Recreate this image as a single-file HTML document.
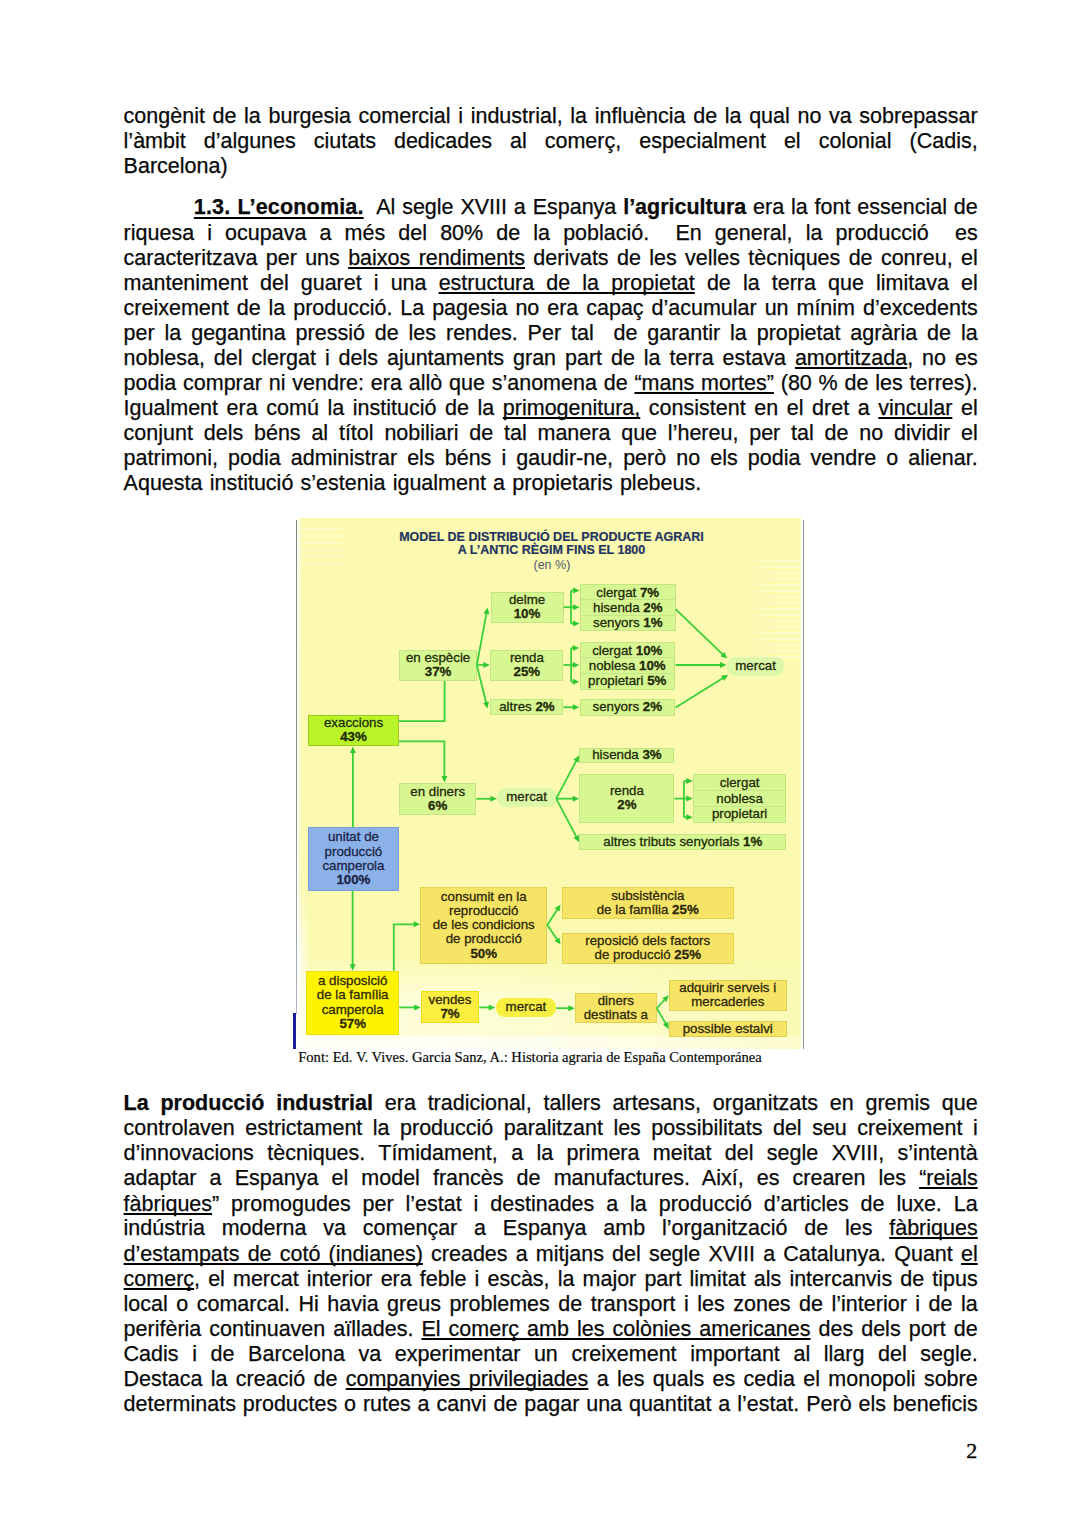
<!DOCTYPE html>
<html><head><meta charset="utf-8">
<style>
html,body{margin:0;padding:0;background:#fff;}
body{width:1080px;height:1528px;position:relative;overflow:hidden;font-family:"Liberation Sans",sans-serif;color:#0a0a0a;}
.ln{position:absolute;font-size:21.5px;line-height:25px;white-space:nowrap;-webkit-text-stroke:0.25px #000;}
.ln.j{text-align:justify;text-align-last:justify;white-space:normal;}
.ln u{text-decoration:underline;text-decoration-skip-ink:none;text-decoration-thickness:1.5px;text-underline-offset:1.7px;}
.ln b{font-weight:bold;}
.ln b u{text-underline-offset:3.2px;text-decoration-thickness:2.4px;letter-spacing:0.18px;}
.cap{position:absolute;font-family:"Liberation Serif",serif;font-size:14.6px;line-height:17px;white-space:nowrap;color:#0a0a0a;-webkit-text-stroke:0.2px #0a0a0a;}
.conn{position:absolute;left:0;top:0;pointer-events:none;}
.pn{position:absolute;font-family:"Liberation Serif",serif;font-size:22px;line-height:25px;color:#0a0a0a;-webkit-text-stroke:0.4px #0a0a0a;}
.cbg{position:absolute;left:298px;top:518px;width:503px;height:531px;background:#fbfab0;}
.bl{position:absolute;background:#8a8a80;}
.bx{position:absolute;box-sizing:border-box;display:flex;flex-direction:column;justify-content:center;align-items:center;text-align:center;font-size:13.3px;line-height:14.3px;color:#1f2a08;white-space:nowrap;-webkit-text-stroke:0.3px #1f2a08;}
.bx b{font-weight:bold;}
.g{background:#d6f792;border:1px solid #c4e682;}
.ex{background:#b8f428;border:1px solid #9cc820;}
.bu{background:#8cb0e8;border:1px solid #7c9ed8;color:#1b2748;-webkit-text-stroke:0.3px #1b2748;}
.go{background:#f6e466;border:1px solid #e6d050;color:#2e2808;-webkit-text-stroke:0.3px #2e2808;}
.ye{background:#fff400;border:1px solid #ecdc10;color:#2e2808;-webkit-text-stroke:0.3px #2e2808;}
.pill{border:none;border-radius:8px/9px;}
.g.pill{background:#dcf8a8;}
.rows{justify-content:space-around;}
.rows div{line-height:15px;}
.ttl{position:absolute;font-weight:bold;font-size:12.5px;line-height:13px;color:#22335f;white-space:nowrap;text-align:center;-webkit-text-stroke:0.2px #22335f;}
.sub{position:absolute;font-size:12.5px;line-height:13px;color:#50566a;white-space:nowrap;}
.sep{position:absolute;height:1px;background:#c6e68c;z-index:1;}
.ov{position:absolute;pointer-events:none;}
.bx>div{position:relative;z-index:2;}

</style></head><body>
<div class="ln j" style="top:103.65px;left:123.60px;width:854.10px;">congènit de la burgesia comercial i industrial, la influència de la qual no va sobrepassar</div>
<div class="ln j" style="top:128.75px;left:123.60px;width:854.10px;">l’àmbit d’algunes ciutats dedicades al comerç, especialment el colonial (Cadis,</div>
<div class="ln" style="top:153.75px;left:123.60px;">Barcelona)</div>
<div class="ln j" style="top:195.45px;left:193.80px;width:783.90px;"><b><u>1.3. L’economia.</u></b>&nbsp; Al segle XVIII a Espanya <b>l’agricultura</b> era la font essencial de</div>
<div class="ln j" style="top:220.55px;left:123.60px;width:854.10px;">riquesa i ocupava a més del 80% de la població.&nbsp; En general, la producció&nbsp; es</div>
<div class="ln j" style="top:245.85px;left:123.60px;width:854.10px;">caracteritzava per uns <u>baixos rendiments</u> derivats de les velles tècniques de conreu, el</div>
<div class="ln j" style="top:270.85px;left:123.60px;width:854.10px;">manteniment del guaret i una <u>estructura de la propietat</u> de la terra que limitava el</div>
<div class="ln j" style="top:295.75px;left:123.60px;width:854.10px;">creixement de la producció. La pagesia no era capaç d’acumular un mínim d’excedents</div>
<div class="ln j" style="top:320.55px;left:123.60px;width:854.10px;">per la gegantina pressió de les rendes. Per tal&nbsp; de garantir la propietat agrària de la</div>
<div class="ln j" style="top:345.75px;left:123.60px;width:854.10px;">noblesa, del clergat i dels ajuntaments gran part de la terra estava <u>amortitzada</u>, no es</div>
<div class="ln j" style="top:370.55px;left:123.60px;width:854.10px;">podia comprar ni vendre: era allò que s’anomena de <u>“mans mortes”</u> (80 % de les terres).</div>
<div class="ln j" style="top:395.85px;left:123.60px;width:854.10px;">Igualment era comú la institució de la <u>primogenitura,</u> consistent en el dret a <u>vincular</u> el</div>
<div class="ln j" style="top:420.95px;left:123.60px;width:854.10px;">conjunt dels béns al títol nobiliari de tal manera que l’hereu, per tal de no dividir el</div>
<div class="ln j" style="top:445.75px;left:123.60px;width:854.10px;">patrimoni, podia administrar els béns i gaudir-ne, però no els podia vendre o alienar.</div>
<div class="ln j" style="top:470.95px;left:123.60px;width:577.60px;">Aquesta institució s’estenia igualment a propietaris plebeus.</div>
<div class="ln j" style="top:1091.25px;left:123.60px;width:854.10px;"><b>La producció industrial</b> era tradicional, tallers artesans, organitzats en gremis que</div>
<div class="ln j" style="top:1116.15px;left:123.60px;width:854.10px;">controlaven estrictament la producció paralitzant les possibilitats del seu creixement i</div>
<div class="ln j" style="top:1141.25px;left:123.60px;width:854.10px;">d’innovacions tècniques. Tímidament, a la primera meitat del segle XVIII, s’intentà</div>
<div class="ln j" style="top:1166.25px;left:123.60px;width:854.10px;">adaptar a Espanya el model francès de manufactures. Així, es crearen les <u>“reials</u></div>
<div class="ln j" style="top:1191.55px;left:123.60px;width:854.10px;"><u>fàbriques</u>” promogudes per l’estat i destinades a la producció d’articles de luxe. La</div>
<div class="ln j" style="top:1216.45px;left:123.60px;width:854.10px;">indústria moderna va començar a Espanya amb l’organització de les <u>fàbriques</u></div>
<div class="ln j" style="top:1241.55px;left:123.60px;width:854.10px;"><u>d’estampats de cotó (indianes)</u> creades a mitjans del segle XVIII a Catalunya. Quant <u>el</u></div>
<div class="ln j" style="top:1266.55px;left:123.60px;width:854.10px;"><u>comerç</u>, el mercat interior era feble i escàs, la major part limitat als intercanvis de tipus</div>
<div class="ln j" style="top:1291.75px;left:123.60px;width:854.10px;">local o comarcal. Hi havia greus problemes de transport i les zones de l’interior i de la</div>
<div class="ln j" style="top:1316.55px;left:123.60px;width:854.10px;">perifèria continuaven aïllades. <u>El comerç amb les colònies americanes</u> des dels port de</div>
<div class="ln j" style="top:1341.95px;left:123.60px;width:854.10px;">Cadis i de Barcelona va experimentar un creixement important al llarg del segle.</div>
<div class="ln j" style="top:1366.95px;left:123.60px;width:854.10px;">Destaca la creació de <u>companyies privilegiades</u> a les quals es cedia el monopoli sobre</div>
<div class="ln j" style="top:1391.65px;left:123.60px;width:854.10px;">determinats productes o rutes a canvi de pagar una quantitat a l’estat. Però els beneficis</div>
<div class="cbg"></div>
<div class="ov" style="left:298px;top:519px;width:3px;height:530px;background:rgba(252,253,235,0.6);"></div>
<div class="ov" style="left:298px;top:880px;width:12px;height:169px;background:linear-gradient(to right,rgba(255,255,252,0.95),rgba(255,255,250,0));-webkit-mask-image:linear-gradient(to bottom,transparent,#000 40%);"></div>
<div class="ov" style="left:745px;top:560px;width:56px;height:100px;background:repeating-linear-gradient(to bottom,rgba(255,255,255,0.35) 0 2px,transparent 2px 6px);-webkit-mask-image:linear-gradient(to right,transparent,#000 60%);"></div>
<div class="ov" style="left:298px;top:955px;width:503px;height:94px;background:linear-gradient(to right,rgba(255,255,238,0.75),rgba(255,255,238,0.55) 45%,rgba(255,255,238,0.1));-webkit-mask-image:linear-gradient(to bottom,transparent,#000 45%);"></div>
<div class="ov" style="left:298px;top:1036px;width:503px;height:13px;background:linear-gradient(to right,rgba(255,255,250,0.9),rgba(255,255,250,0.7) 50%,rgba(255,255,250,0.3));"></div>
<div class="ov" style="left:298px;top:528px;width:45px;height:40px;background:repeating-linear-gradient(to bottom,rgba(255,255,255,0.25) 0 2px,transparent 2px 7px);"></div>
<div class="bl" style="left:295.8px;top:519.5px;width:1.5px;height:494px;background:linear-gradient(to bottom,#7c847c,#8a8e8a 60%,#b0b4c4);"></div>
<div class="bl" style="left:293.3px;top:1013.4px;width:2.8px;height:35.3px;background:#1c1c96;"></div>
<div class="bl" style="left:802.9px;top:519.5px;width:1.5px;height:529.5px;background:#8c9088;"></div>
<div class="ttl" style="left:399px;top:531px;width:305px;">MODEL DE DISTRIBUCIÓ DEL PRODUCTE AGRARI</div>
<div class="ttl" style="left:399px;top:544px;width:305px;">A L’ANTIC RÈGIM FINS EL 1800</div>
<div class="sub" style="left:533.5px;top:559px;">(en %)</div>

<div class="bx g" style="left:490.5px;top:591.5px;width:73px;height:31.7px;"><div>delme</div><div><b>10%</b></div></div>
<div class="bx g rows" style="left:580px;top:583.5px;width:95.5px;height:47.5px;"><div>clergat <b>7%</b></div><div>hisenda <b>2%</b></div><div>senyors <b>1%</b></div></div>
<div class="bx g" style="left:399.4px;top:649.5px;width:77.4px;height:31.5px;"><div>en espècie</div><div><b>37%</b></div></div>
<div class="bx g" style="left:490.3px;top:649.5px;width:73.2px;height:31.5px;"><div>renda</div><div><b>25%</b></div></div>
<div class="bx g rows" style="left:579.5px;top:641.5px;width:95.5px;height:48px;"><div>clergat <b>10%</b></div><div>noblesa <b>10%</b></div><div>propietari <b>5%</b></div></div>
<div class="bx g" style="left:490.3px;top:699.3px;width:73.2px;height:16px;"><div>altres <b>2%</b></div></div>
<div class="bx g" style="left:579.5px;top:699.3px;width:95.5px;height:16.3px;"><div>senyors <b>2%</b></div></div>
<div class="bx g pill" style="left:727.4px;top:657.1px;width:56.4px;height:18.8px;padding-bottom:1px;"><div>mercat</div></div>
<div class="sep" style="left:581px;top:599px;width:93.5px;"></div>
<div class="sep" style="left:581px;top:615px;width:93.5px;"></div>
<div class="sep" style="left:580.5px;top:657px;width:93.5px;"></div>
<div class="sep" style="left:580.5px;top:672.5px;width:93.5px;"></div>
<div class="sep" style="left:694px;top:790px;width:91.2px;"></div>
<div class="sep" style="left:694px;top:806px;width:91.2px;"></div>
<div class="bx ex" style="left:308.2px;top:714.6px;width:90.7px;height:31.8px;"><div>exaccions</div><div><b>43%</b></div></div>
<div class="bx g" style="left:399px;top:782.7px;width:77.4px;height:32.5px;"><div>en diners</div><div><b>6%</b></div></div>
<div class="bx g pill" style="left:496.6px;top:788.3px;width:60px;height:19.1px;padding-bottom:1px;"><div>mercat</div></div>
<div class="bx g" style="left:579.4px;top:747.8px;width:95px;height:15.3px;"><div>hisenda <b>3%</b></div></div>
<div class="bx g" style="left:579.4px;top:774.1px;width:95px;height:48.6px;"><div>renda</div><div><b>2%</b></div></div>
<div class="bx g rows" style="left:693px;top:774.1px;width:93.2px;height:48.6px;"><div>clergat</div><div>noblesa</div><div>propietari</div></div>
<div class="bx g" style="left:579.4px;top:834.3px;width:206.8px;height:16.2px;"><div>altres tributs senyorials <b>1%</b></div></div>
<div class="bx bu" style="left:308.2px;top:827px;width:90.5px;height:63.6px;"><div>unitat de</div><div>producció</div><div>camperola</div><div><b>100%</b></div></div>
<div class="bx go" style="left:420.2px;top:887.1px;width:127.1px;height:76.5px;"><div>consumit en la</div><div>reproducció</div><div>de les condicions</div><div>de producció</div><div><b>50%</b></div></div>
<div class="bx go" style="left:561.7px;top:887.3px;width:172.1px;height:31.6px;"><div>subsistència</div><div>de la família <b>25%</b></div></div>
<div class="bx go" style="left:561.7px;top:933.1px;width:172.1px;height:30.8px;"><div>reposició dels factors</div><div>de producció <b>25%</b></div></div>
<div class="bx ye" style="left:306.1px;top:970.8px;width:93.2px;height:63.8px;"><div>a disposició</div><div>de la família</div><div>camperola</div><div><b>57%</b></div></div>
<div class="bx ye" style="left:420.7px;top:991px;width:58.6px;height:31.8px;background:#fbee40;"><div>vendes</div><div><b>7%</b></div></div>
<div class="bx ye pill" style="left:496px;top:997.9px;width:59.8px;height:18.9px;background:#f8f040;"><div>mercat</div></div>
<div class="bx go" style="left:574.9px;top:992.8px;width:81.9px;height:30.5px;"><div>diners</div><div>destinats a</div></div>
<div class="bx go" style="left:668.8px;top:979.5px;width:117.9px;height:31.3px;"><div>adquirir serveis i</div><div>mercaderies</div></div>
<div class="bx go" style="left:668.8px;top:1021.2px;width:117.9px;height:15.4px;"><div>possible estalvi</div></div>
<svg class="conn" width="1080" height="1528" viewBox="0 0 1080 1528"><g fill="none" stroke="#3ad03a" stroke-width="1.8" stroke-linejoin="miter"><polyline points="476.80,665.00 486.58,612.91"/>
<polygon fill="#30c830" stroke="none" points="487.60,607.50 489.35,614.44 483.45,613.33"/>
<polyline points="476.80,665.00 484.30,665.00"/>
<polygon fill="#30c830" stroke="none" points="489.80,665.00 483.30,668.00 483.30,662.00"/>
<polyline points="476.80,665.00 486.27,703.16"/>
<polygon fill="#30c830" stroke="none" points="487.60,708.50 483.12,702.91 488.95,701.47"/>
<polyline points="563.60,607.20 571.00,607.20"/>
<polyline points="571.00,590.50 571.00,623.50"/>
<polyline points="571.00,590.50 574.10,590.50"/>
<polygon fill="#30c830" stroke="none" points="579.60,590.50 573.10,593.50 573.10,587.50"/>
<polyline points="571.00,607.20 574.10,607.20"/>
<polygon fill="#30c830" stroke="none" points="579.60,607.20 573.10,610.20 573.10,604.20"/>
<polyline points="571.00,623.50 574.10,623.50"/>
<polygon fill="#30c830" stroke="none" points="579.60,623.50 573.10,626.50 573.10,620.50"/>
<polyline points="563.50,665.00 571.10,665.00"/>
<polyline points="571.10,648.00 571.10,681.70"/>
<polyline points="571.10,648.00 573.80,648.00"/>
<polygon fill="#30c830" stroke="none" points="579.30,648.00 572.80,651.00 572.80,645.00"/>
<polyline points="571.10,665.00 573.80,665.00"/>
<polygon fill="#30c830" stroke="none" points="579.30,665.00 572.80,668.00 572.80,662.00"/>
<polyline points="571.10,681.70 573.80,681.70"/>
<polygon fill="#30c830" stroke="none" points="579.30,681.70 572.80,684.70 572.80,678.70"/>
<polyline points="563.50,707.20 573.80,707.20"/>
<polygon fill="#30c830" stroke="none" points="579.30,707.20 572.80,710.20 572.80,704.20"/>
<polyline points="675.60,609.20 723.23,654.80"/>
<polygon fill="#30c830" stroke="none" points="727.20,658.60 720.43,656.27 724.58,651.94"/>
<polyline points="675.60,665.00 721.00,665.00"/>
<polygon fill="#30c830" stroke="none" points="726.50,665.00 720.00,668.00 720.00,662.00"/>
<polyline points="675.60,707.50 723.53,677.70"/>
<polygon fill="#30c830" stroke="none" points="728.20,674.80 724.26,680.78 721.10,675.68"/>
<polyline points="444.60,681.00 444.60,721.20 398.90,721.20"/>
<polyline points="398.90,741.30 444.40,741.30 444.40,777.00"/>
<polygon fill="#30c830" stroke="none" points="444.40,782.50 441.40,776.00 447.40,776.00"/>
<polyline points="476.40,798.80 491.40,798.80"/>
<polygon fill="#30c830" stroke="none" points="496.90,798.80 490.40,801.80 490.40,795.80"/>
<polyline points="556.20,798.70 576.62,760.16"/>
<polygon fill="#30c830" stroke="none" points="579.20,755.30 578.81,762.45 573.51,759.64"/>
<polyline points="556.20,798.70 573.70,798.70"/>
<polygon fill="#30c830" stroke="none" points="579.20,798.70 572.70,801.70 572.70,795.70"/>
<polyline points="556.20,798.70 576.63,837.34"/>
<polygon fill="#30c830" stroke="none" points="579.20,842.20 573.51,837.86 578.81,835.05"/>
<polyline points="674.40,798.60 683.90,798.60"/>
<polyline points="683.90,781.00 683.90,817.30"/>
<polyline points="683.90,781.00 687.30,781.00"/>
<polygon fill="#30c830" stroke="none" points="692.80,781.00 686.30,784.00 686.30,778.00"/>
<polyline points="683.90,798.60 687.30,798.60"/>
<polygon fill="#30c830" stroke="none" points="692.80,798.60 686.30,801.60 686.30,795.60"/>
<polyline points="683.90,817.30 687.30,817.30"/>
<polygon fill="#30c830" stroke="none" points="692.80,817.30 686.30,820.30 686.30,814.30"/>
<polyline points="352.90,827.00 352.90,752.10"/>
<polygon fill="#30c830" stroke="none" points="352.90,746.60 355.90,753.10 349.90,753.10"/>
<polyline points="352.60,890.60 352.60,965.30"/>
<polygon fill="#30c830" stroke="none" points="352.60,970.80 349.60,964.30 355.60,964.30"/>
<polyline points="393.80,970.80 393.80,924.30 414.70,924.30"/>
<polygon fill="#30c830" stroke="none" points="420.20,924.30 413.70,927.30 413.70,921.30"/>
<polyline points="399.40,1007.40 415.20,1007.40"/>
<polygon fill="#30c830" stroke="none" points="420.70,1007.40 414.20,1010.40 414.20,1004.40"/>
<polyline points="479.30,1007.40 489.70,1007.40"/>
<polygon fill="#30c830" stroke="none" points="495.20,1007.40 488.70,1010.40 488.70,1004.40"/>
<polyline points="547.30,925.00 557.62,909.02"/>
<polygon fill="#30c830" stroke="none" points="560.60,904.40 559.59,911.49 554.55,908.23"/>
<polyline points="547.30,925.00 557.50,939.96"/>
<polygon fill="#30c830" stroke="none" points="560.60,944.50 554.46,940.82 559.42,937.44"/>
<polyline points="556.30,1008.20 569.40,1008.20"/>
<polygon fill="#30c830" stroke="none" points="574.90,1008.20 568.40,1011.20 568.40,1005.20"/>
<polyline points="656.80,1008.20 665.07,999.24"/>
<polygon fill="#30c830" stroke="none" points="668.80,995.20 666.60,1002.01 662.19,997.94"/>
<polyline points="656.80,1008.20 666.05,1024.24"/>
<polygon fill="#30c830" stroke="none" points="668.80,1029.00 662.95,1024.87 668.15,1021.87"/></g></svg>
<div class="cap" style="left:298.2px;top:1049.3px;">Font: Ed. V. Vives. Garcia Sanz, A.: Historia agraria de España Contemporánea</div>
<div class="pn" style="left:966.3px;top:1438.1px;">2</div>
</body></html>
